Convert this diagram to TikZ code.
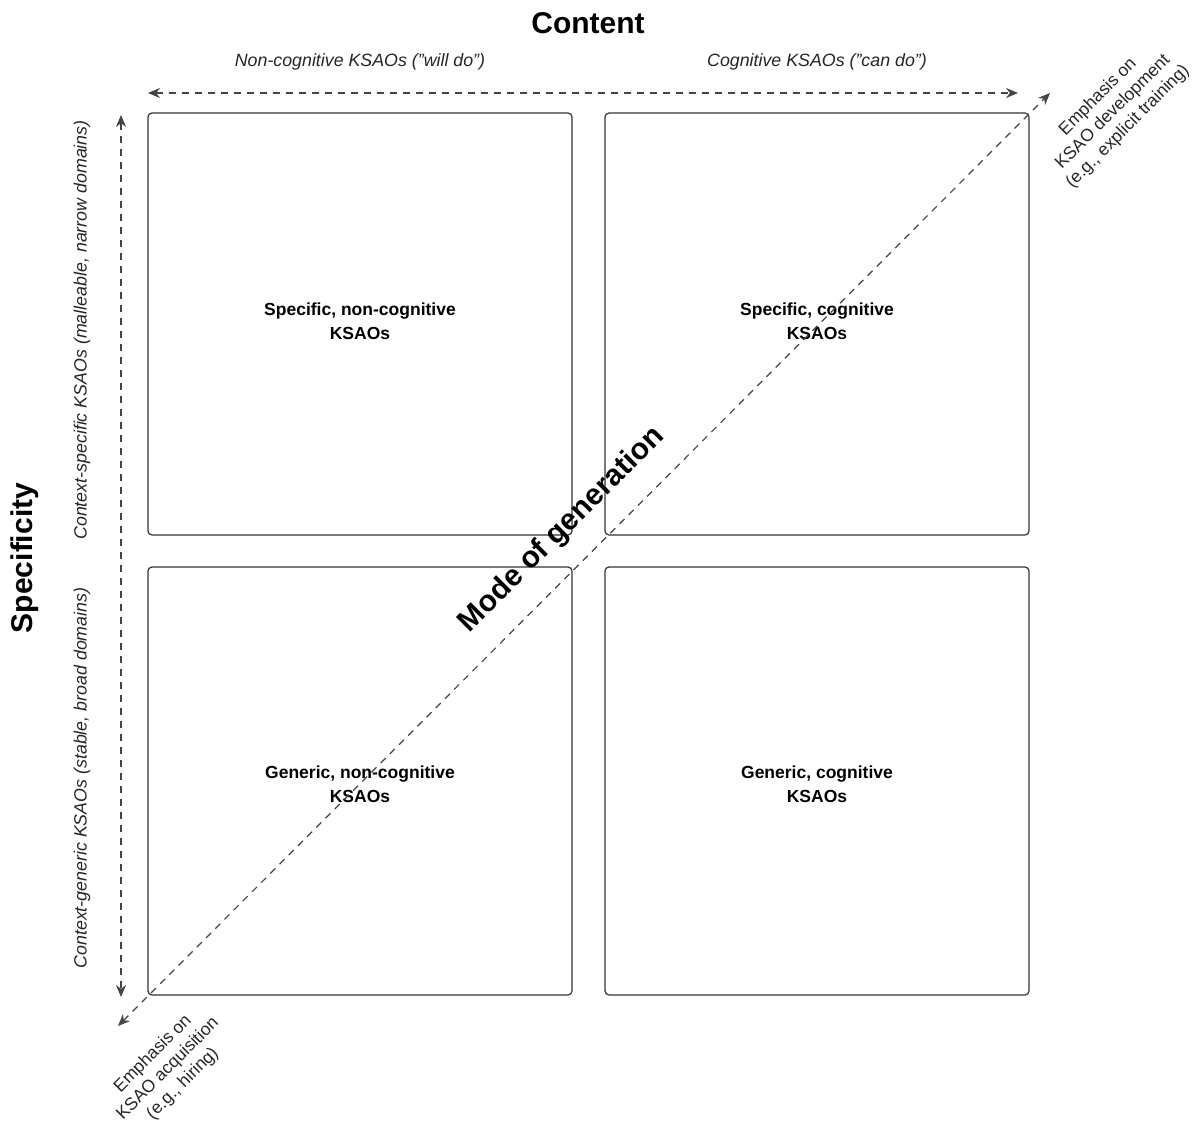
\documentclass[tikz,border=0pt]{standalone}
\usepackage{fontspec}
\setmainfont{Liberation Sans}
\usetikzlibrary{arrows.meta}
\definecolor{linec}{HTML}{333333}
\definecolor{arrc}{HTML}{444444}
\begin{document}
\begin{tikzpicture}[x=1pt,y=-1pt,
  quad/.style={draw=linec,line width=1.2pt,rounded corners=4pt},
  qtext/.style={align=center,font=\bfseries\fontsize{17.5}{24}\selectfont,text=black},
  axlabel/.style={font=\itshape\fontsize{17.8}{20}\selectfont,text=black!85},
  corner/.style={align=center,font=\fontsize{17.5}{21}\selectfont,text=black!85,rotate=45},
  ddarr/.style={draw=arrc,line width=1.2pt,dash pattern=on 7pt off 6pt,{Stealth[length=12pt,width=10pt]}-{Stealth[length=12pt,width=10pt]}},
  title/.style={font=\bfseries\fontsize{30}{34}\selectfont,text=black}]
\useasboundingbox[fill=white] (0,0) rectangle (1197,1121);
% boxes
\draw[quad] (148,113) rectangle (572,535);
\draw[quad] (605,113) rectangle (1029,535);
\draw[quad] (148,567) rectangle (572,995);
\draw[quad] (605,567) rectangle (1029,995);
\node[qtext] (tl) at (360,321) {Specific, non-cognitive\\KSAOs};
\node[qtext] (tr) at (817,321) {Specific, cognitive\\KSAOs};
\node[qtext] (bl) at (360,784) {Generic, non-cognitive\\KSAOs};
\node[qtext] (br) at (817,784) {Generic, cognitive\\KSAOs};
% titles
\node[title] (content) at (588,23) {Content};
\node[title,rotate=90] (spec) at (25,558) {Specificity};
\node[axlabel] (nc) at (360,62) {Non-cognitive KSAOs (\symbol{34}will do\symbol{34})};
\node[axlabel] (cg) at (817,62) {Cognitive KSAOs (\symbol{34}can do\symbol{34})};
\node[axlabel,rotate=90] (cs) at (82,330) {Context-specific KSAOs (malleable, narrow domains)};
\node[axlabel,rotate=90] (cgen) at (82,778) {Context-generic KSAOs (stable, broad domains)};
% axes
\coordinate (hl) at (148,93);
\coordinate (hr) at (1018,93);
\coordinate (vt) at (121,115);
\coordinate (vb) at (121,997);
\coordinate (dl) at (118,1026);
\coordinate (dr) at (1050,93);
\draw[ddarr] (hl) -- (hr);
\draw[ddarr] (vt) -- (vb);
\draw[ddarr] (dl) -- (dr);
\node[title,rotate=45] (mode) at (562,530) {Mode of generation};
\node[corner] (dev) at (1113,112) {Emphasis on\\KSAO development\\(e.g., explicit training)};
\node[corner] (acq) at (168,1069) {Emphasis on\\KSAO acquisition\\(e.g., hiring)};
\end{tikzpicture}
\end{document}
